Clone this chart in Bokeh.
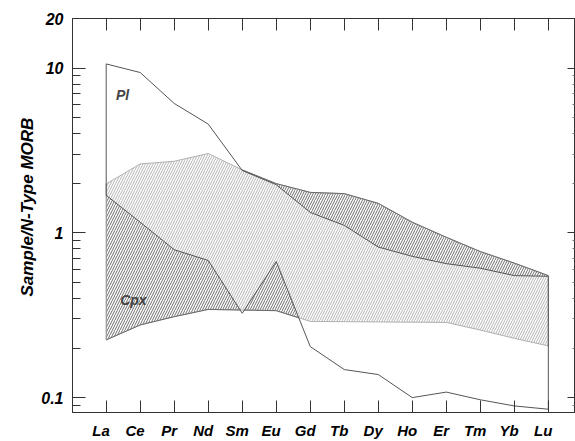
import numpy as np
from bokeh.plotting import figure
from bokeh.models import (Range1d, LogAxis, LinearAxis, FixedTicker, Label, Title,
                          CustomJSTickFormatter)
from bokeh.embed import file_html
from bokeh.resources import INLINE

# ---------------- data ----------------
elements = ["La", "Ce", "Pr", "Nd", "Sm", "Eu", "Gd", "Tb", "Dy", "Ho", "Er", "Tm", "Yb", "Lu"]
pl_upper = [10.6, 9.4, 6.1, 4.57, 2.39, 1.96, 1.33, 1.11, 0.82, 0.72, 0.65, 0.61, 0.55, 0.545]
pl_lower = [1.69, 1.16, 0.79, 0.68, 0.325, 0.67, 0.204, 0.148, 0.138, 0.100, 0.108, 0.097, 0.089, 0.085]
cpx_upper = [1.98, 2.62, 2.72, 3.03, 2.41, 1.99, 1.76, 1.73, 1.51, 1.16, 0.94, 0.77, 0.655, 0.55]
cpx_lower = [0.224, 0.276, 0.31, 0.343, 0.340, 0.337, 0.290, 0.289, 0.288, 0.287, 0.286, 0.257, 0.229, 0.206]
y_ticks = [0.1, 1, 10, 20]

# ---------------- geometry of the overlapping fields ----------------
xs = np.arange(1, len(elements) + 1, dtype=float)
L = {k: np.log10(np.array(v, dtype=float)) for k, v in
     dict(pu=pl_upper, pl=pl_lower, cu=cpx_upper, cl=cpx_lower).items()}


def crossings(a, b):
    d = a - b
    out = []
    for i in range(len(d) - 1):
        if d[i] * d[i + 1] < 0:
            out.append(xs[i] + d[i] / (d[i] - d[i + 1]))
    return out


grid = set(xs.tolist())
for a, b in [("pu", "cu"), ("pl", "cl"), ("pl", "cu"), ("pu", "cl")]:
    grid.update(crossings(L[a], L[b]))
grid = np.array(sorted(grid))
G = {k: np.interp(grid, xs, v) for k, v in L.items()}

light_lo = np.maximum(G["cl"], G["pl"])
light_hi = np.maximum(np.minimum(G["cu"], G["pu"]), light_lo)
dtop_lo = np.maximum(G["pu"], G["cl"])
dtop_hi = np.maximum(G["cu"], dtop_lo)
dbot_lo = G["cl"]
dbot_hi = np.maximum(np.minimum(G["pl"], G["cu"]), dbot_lo)


def mask_line(vals, thick):
    keep = thick > 1e-9
    k = keep.copy()
    k[1:] |= keep[:-1]
    k[:-1] |= keep[1:]
    return np.where(k, 10 ** vals, np.nan)


# ---------------- figure ----------------
x0, x1 = 0.009, 14.77
y0, y1 = 0.0812, 20.0
p = figure(width=575, height=441, output_backend="svg", toolbar_location=None,
           x_range=Range1d(x0, x1), y_range=Range1d(y0, y1),
           y_axis_type="log", x_axis_location=None, y_axis_location=None,
           min_border_left=72, min_border_right=1, min_border_top=18,
           min_border_bottom=28)
p.grid.visible = False
p.outline_line_color = "#333333"
p.background_fill_color = "white"
p.border_fill_color = "white"

FONT = "Liberation Sans"

# hatched regions
p.varea(x=grid, y1=10 ** light_lo, y2=10 ** light_hi, fill_alpha=0,
        hatch_pattern="/", hatch_color="#b4b4b4", hatch_scale=5, hatch_weight=1)
p.varea(x=grid, y1=10 ** dtop_lo, y2=10 ** dtop_hi, fill_alpha=0,
        hatch_pattern="/", hatch_color="#6e6e6e", hatch_scale=5, hatch_weight=1)
p.varea(x=grid, y1=10 ** dbot_lo, y2=10 ** dbot_hi, fill_alpha=0,
        hatch_pattern="/", hatch_color="#6e6e6e", hatch_scale=5, hatch_weight=1)

# Cpx field outline (light)
p.line(xs, cpx_upper, line_color="#b0b0b0", line_width=1)
p.line(xs, cpx_lower, line_color="#b0b0b0", line_width=1)
p.line([xs[0], xs[0]], [cpx_lower[0], cpx_upper[0]], line_color="#8a8a8a", line_width=1)
p.line([xs[-1], xs[-1]], [cpx_lower[-1], cpx_upper[-1]], line_color="#a0a0a0", line_width=1)
# darker edges where Cpx lies outside the Pl field
p.line(grid, mask_line(G["cu"], dtop_hi - dtop_lo), line_color="#6a6a6a", line_width=1)
p.line(grid, mask_line(G["cl"], dbot_hi - dbot_lo), line_color="#6a6a6a", line_width=1)

# Pl field outline
pl_x = list(xs) + [xs[-1]] + list(xs[::-1]) + [xs[0]]
pl_y = list(pl_upper) + [pl_lower[-1]] + list(pl_lower[::-1]) + [pl_upper[0]]
p.line(pl_x, pl_y, line_color="#555555", line_width=1)

# field names
p.add_layout(Label(x=1.48, y=6.87, text="Pl", text_font=FONT, text_font_style="bold italic",
                   text_font_size="14px", text_align="center", text_baseline="middle"))
p.add_layout(Label(x=1.80, y=0.39, text="Cpx", text_font=FONT, text_font_style="bold italic",
                   text_font_size="14px", text_align="center", text_baseline="middle"))

# ---------------- axes ----------------
minor = [k * 10.0 ** d for d in (-2, -1, 0, 1) for k in range(2, 10)]
minor = [m for m in minor if y0 < m < y1 and m not in (10, 20)]
yticker = FixedTicker(ticks=y_ticks, minor_ticks=minor)

left = LogAxis(ticker=yticker,
               formatter=CustomJSTickFormatter(code="return tick.toString()"),
               major_tick_in=13, major_tick_out=0, minor_tick_in=8, minor_tick_out=0,
               axis_line_color="#333333", major_tick_line_color="#333333",
               minor_tick_line_color="#333333", major_label_standoff=9,
               major_label_text_font=FONT, major_label_text_font_style="bold italic",
               major_label_text_font_size="16px", major_label_text_color="black")
p.add_layout(left, "left")

right = LogAxis(ticker=yticker,
                formatter=CustomJSTickFormatter(code="return ''"),
                major_tick_in=7, major_tick_out=0, minor_tick_in=2, minor_tick_out=0,
                axis_line_color="#333333", major_tick_line_color="#333333",
                minor_tick_line_color="#777777", major_label_standoff=0,
                major_label_text_font_size="0px")
p.add_layout(right, "right")

xticker = FixedTicker(ticks=list(xs), minor_ticks=[])
top = LinearAxis(ticker=xticker, formatter=CustomJSTickFormatter(code="return ''"),
                 major_tick_in=12, major_tick_out=0, axis_line_color="#333333",
                 major_tick_line_color="#333333", major_label_standoff=0,
                 major_label_text_font_size="0px")
p.add_layout(top, "above")

bottom = LinearAxis(ticker=xticker, formatter=CustomJSTickFormatter(code="return ''"),
                    major_tick_in=12, major_tick_out=0, axis_line_color="#333333",
                    major_tick_line_color="#333333", major_label_standoff=0,
                    major_label_text_font_size="0px")
p.add_layout(bottom, "below")

shift = 0.15
p.extra_x_ranges = {"labels": Range1d(x0 + shift, x1 + shift)}
lab_axis = LinearAxis(x_range_name="labels",
                      ticker=FixedTicker(ticks=list(range(1, len(elements) + 1)), minor_ticks=[]),
                      major_label_overrides={i + 1: e for i, e in enumerate(elements)},
                      axis_line_color=None, major_tick_line_color=None,
                      major_tick_in=0, major_tick_out=0, major_label_standoff=9,
                      major_label_text_font=FONT, major_label_text_font_style="bold italic",
                      major_label_text_font_size="15px", major_label_text_color="black")
p.add_layout(lab_axis, "below")

# y-axis title, placed as a side title so it can be offset along the axis
ytitle = Title(text="Sample/N-Type MORB", align="left", offset=116,
               text_font=FONT, text_font_style="bold italic", text_font_size="17px",
               text_color="black", standoff=4)
p.add_layout(ytitle, "left")

open("out.html", "w").write(file_html(p, INLINE))
